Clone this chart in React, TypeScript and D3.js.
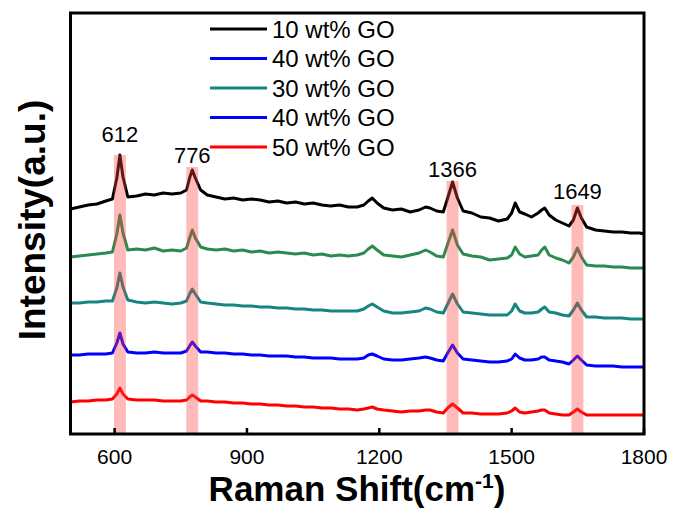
import React from "react";
import * as d3 from "d3";

const W = 674;
const H = 508;

const wavenumbers = [
  500, 520, 540, 560, 580, 595, 605, 612, 619, 630, 650, 670, 690, 710, 730, 750, 763, 770, 776, 783,
  795, 810, 830, 850, 870, 890, 910, 930, 950, 970, 990, 1010, 1030, 1050, 1070, 1090, 1110, 1130, 1150, 1165,
  1175, 1184, 1195, 1210, 1230, 1250, 1270, 1290, 1305, 1315, 1330, 1345, 1355, 1366, 1377, 1390, 1410, 1430, 1450, 1470,
  1490, 1500, 1508, 1518, 1530, 1545, 1560, 1568, 1575, 1585, 1600, 1615, 1630, 1640, 1649, 1658, 1670, 1690, 1710, 1730,
  1750, 1770, 1790, 1800,
];

const go10 = [
  225, 227, 229, 230, 233, 235, 256, 279, 257, 237, 238, 240, 239, 241, 240, 241, 244, 256, 264, 256,
  244, 239, 237, 235, 236, 234, 235, 234, 232, 233, 231, 232, 230, 231, 229, 228, 229, 227, 227, 229,
  233, 236, 231, 226, 224, 225, 222, 224, 227, 226, 223, 222, 236, 252, 236, 223, 221, 217, 216, 213,
  215, 221, 231, 222, 220, 217, 221, 224, 226, 219, 214, 211, 208, 214, 226, 216, 207, 204, 203, 202,
  202, 201, 201, 200,
];

const go40a = [
  177, 178, 179, 180, 181, 182, 200, 219, 201, 184, 185, 184, 186, 183, 184, 183, 186, 196, 204, 196,
  187, 185, 184, 185, 183, 184, 182, 183, 181, 182, 181, 180, 181, 179, 180, 178, 179, 178, 179, 181,
  185, 188, 184, 179, 178, 177, 179, 181, 184, 182, 178, 177, 190, 204, 189, 180, 178, 177, 174, 175,
  176, 179, 187, 180, 177, 178, 179, 184, 187, 179, 176, 174, 171, 177, 186, 177, 169, 168, 168, 167,
  167, 166, 166, 166,
];

const go30 = [
  131, 131, 132, 132, 133, 133, 146, 161, 147, 134, 132, 131, 132, 131, 130, 131, 133, 140, 145, 140,
  132, 131, 130, 129, 129, 128, 128, 127, 127, 126, 126, 125, 125, 124, 124, 123, 123, 123, 123, 125,
  128, 130, 127, 123, 121, 121, 122, 123, 126, 125, 122, 121, 130, 140, 130, 122, 121, 120, 119, 119,
  119, 123, 130, 123, 121, 121, 122, 125, 127, 122, 121, 119, 118, 124, 131, 124, 117, 117, 116, 116,
  116, 115, 115, 115,
];

const go40b = [
  79, 79, 80, 80, 80, 81, 91, 101, 90, 82, 81, 81, 82, 81, 81, 81, 83, 88, 92, 88,
  82, 82, 81, 81, 80, 80, 79, 79, 78, 78, 78, 77, 77, 76, 76, 76, 75, 75, 75, 76,
  79, 80, 78, 75, 74, 74, 75, 76, 77, 76, 74, 73, 81, 89, 81, 75, 74, 73, 72, 72,
  73, 75, 80, 76, 74, 74, 75, 77, 77, 74, 73, 72, 70, 74, 78, 74, 69, 68, 68, 68,
  67, 67, 67, 67,
];

const go50 = [
  32, 33, 33, 34, 34, 35, 40, 46, 40, 35, 34, 34, 34, 33, 33, 33, 34, 37, 39, 37,
  33, 33, 32, 32, 31, 31, 30, 30, 29, 29, 28, 28, 27, 27, 26, 26, 25, 25, 24, 25,
  26, 27, 25, 24, 23, 22, 23, 23, 24, 24, 22, 21, 26, 30, 26, 21, 21, 20, 20, 20,
  21, 23, 26, 22, 21, 22, 23, 24, 24, 21, 20, 19, 19, 22, 25, 22, 19, 19, 19, 19,
  19, 19, 19, 19,
];

const seriesNames = ["10 wt% GO", "40 wt% GO", "30 wt% GO", "40 wt% GO", "50 wt% GO"];
const seriesData = [go10, go40a, go30, go40b, go50];
const lineColors = ["#000000", "#2b8a4f", "#14867f", "#0000ff", "#ff0000"];
const legendColors = ["#000000", "#0000ff", "#14867f", "#0000ff", "#ff0000"];

const peakPositions = [612, 776, 1366, 1649];
const peakBandTops = [279, 267, 253, 229];
const peakLabelLevels = [292, 271, 257, 235];
const bandHalfWidth = 13.5;

const xTicks = [600, 900, 1200, 1500, 1800];

const margin = { left: 70.5, right: 30, top: 13, bottom: 74 };

export default function App() {
  const x = d3.scaleLinear().domain([500, 1800]).range([margin.left, W - margin.right]);
  const y = d3.scaleLinear().domain([0, 421]).range([H - margin.bottom, margin.top]);
  const line = d3
    .line<number>()
    .x((_, i) => x(wavenumbers[i]))
    .y((d) => y(d))
    .curve(d3.curveLinear);

  const x0 = x(500);
  const x1 = x(1800);
  const yTop = margin.top;
  const yBot = H - margin.bottom;
  const font = "Arial, 'Liberation Sans', sans-serif";

  return (
    <svg
      width={W}
      height={H}
      style={{ position: "absolute", left: 0, top: 0, background: "#fff" }}
      fontFamily={font}
    >
      <rect x={0} y={0} width={W} height={H} fill="#fff" />
      {seriesData.map((s, i) => (
        <path
          key={"s" + i}
          d={line(s) || ""}
          fill="none"
          stroke={lineColors[i]}
          strokeWidth={3}
          strokeLinejoin="round"
        />
      ))}
      {peakPositions.map((p, i) => (
        <rect
          key={"b" + i}
          x={x(p - bandHalfWidth)}
          y={y(peakBandTops[i])}
          width={x(p + bandHalfWidth) - x(p - bandHalfWidth)}
          height={yBot - y(peakBandTops[i])}
          fill="#ff4040"
          fillOpacity={0.36}
        />
      ))}
      {peakPositions.map((p, i) => (
        <text
          key={"l" + i}
          x={x(p)}
          y={y(peakLabelLevels[i])}
          textAnchor="middle"
          fontSize={22}
          fill="#000"
        >
          {p}
        </text>
      ))}
      {xTicks.map((t) => (
        <g key={"t" + t}>
          <line x1={x(t)} x2={x(t)} y1={yBot} y2={yBot - 6} stroke="#000" strokeWidth={2.5} />
          <text x={x(t)} y={yBot + 29.5} textAnchor="middle" fontSize={21} fill="#000">
            {t}
          </text>
        </g>
      ))}
      <rect x={x0} y={yTop} width={x1 - x0} height={yBot - yTop} fill="none" stroke="#000" strokeWidth={3} />
      {seriesNames.map((n, i) => {
        const ly = 29 + i * 29.5;
        return (
          <g key={"lg" + i}>
            <line x1={210} x2={267} y1={ly} y2={ly} stroke={legendColors[i]} strokeWidth={2.8} />
            <text x={272} y={ly + 8.5} fontSize={24} fill="#000">
              {n}
            </text>
          </g>
        );
      })}
      <text x={357} y={501} textAnchor="middle" fontSize={35} fontWeight="bold" fill="#000">
        Raman Shift(cm
        <tspan dy={-13} fontSize={21}>-1</tspan>
        <tspan dy={13}>)</tspan>
      </text>
      <text
        transform={`translate(45, 220) rotate(-90)`}
        textAnchor="middle"
        fontSize={37}
        fontWeight="bold"
        fill="#000"
      >
        Intensity(a.u.)
      </text>
    </svg>
  );
}
